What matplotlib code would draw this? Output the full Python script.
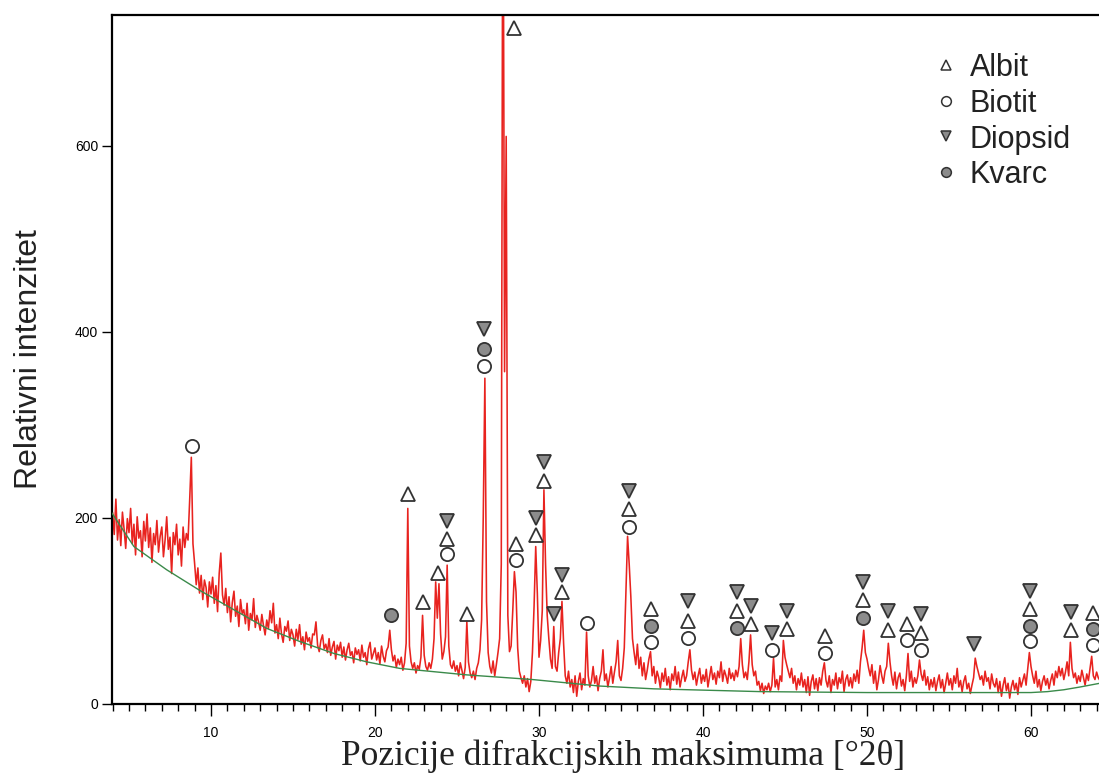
import numpy as np
import matplotlib
matplotlib.use("Agg")
import matplotlib.pyplot as plt
from matplotlib.ticker import MultipleLocator

# ---------------- data ----------------
two_theta_start = 4.0   # deg 2theta of first point
two_theta_step = 0.1    # deg between points

# measured intensity, one row per degree (4.0 ... 64.2)
intensity = [
    205, 182, 220, 176, 198, 170, 206, 188, 167, 199,
    184, 210, 172, 193, 160, 201, 178, 186, 158, 196,
    175, 204, 168, 189, 152, 183, 171, 197, 163, 180,
    190, 158, 176, 201, 166, 179, 140, 184, 171, 193,
    160, 177, 148, 190, 168, 183, 176, 219, 265, 172,
    151, 128, 146, 119, 138, 112, 133, 125, 104, 131,
    118, 136, 108, 127, 99, 140, 162, 117, 106, 124,
    98, 115, 88, 109, 121, 94, 105, 83, 112, 97,
    101, 86, 108, 79, 97, 90, 113, 82, 95, 88,
    79, 96, 84, 74, 90, 81, 100, 87, 108, 76,
    85, 70, 92, 75, 66, 83, 78, 89, 68, 80,
    74, 62, 80, 69, 85, 64, 72, 58, 77, 67,
    71, 60, 75, 74, 88, 63, 56, 68, 74, 59,
    64, 55, 70, 52, 61, 67, 48, 63, 57, 66,
    50, 61, 47, 58, 65, 52, 56, 44, 60, 53,
    58, 46, 63, 50, 55, 42, 59, 66, 48, 54,
    60, 47, 55, 43, 62, 51, 45, 57, 61, 79,
    58, 46, 52, 39, 48, 42, 50, 36, 44, 65,
    210, 62, 45, 38, 44, 33, 41, 37, 50, 95,
    52, 40, 36, 44, 38, 48, 70, 131, 92, 129,
    75, 48, 56, 72, 149, 62, 42, 38, 46, 35,
    41, 30, 44, 36, 27, 39, 88, 45, 33, 28,
    35, 26, 38, 44, 58, 90, 200, 350, 110, 55,
    40, 33, 46, 30, 42, 55, 70, 150, 1000, 357,
    610, 95, 56, 62, 100, 142, 120, 60, 35, 28,
    22, 30, 18, 27, 13, 24, 55, 105, 169, 118,
    50, 68, 100, 230, 150, 95, 70, 48, 38, 83,
    40, 35, 55, 70, 110, 65, 30, 22, 35, 18,
    26, 12, 30, 8, 24, 33, 15, 27, 20, 77,
    30, 18, 25, 40, 22, 30, 14, 27, 35, 58,
    25, 32, 18, 28, 40, 22, 34, 45, 68, 30,
    25, 38, 60, 120, 180, 150, 115, 70, 55, 42,
    64, 38, 50, 30, 44, 26, 36, 48, 56, 30,
    40, 22, 35, 28, 17, 33, 24, 38, 20, 29,
    15, 32, 25, 40, 21, 34, 18, 28, 36, 24,
    30, 45, 58, 36, 26, 34, 20, 30, 38, 22,
    31, 24, 37, 18, 29, 40, 26, 33, 21, 35,
    28, 45, 24, 36, 30, 22, 38, 27, 33, 25,
    36, 29, 40, 70, 42, 28, 34, 26, 45, 74,
    42, 30, 35, 20, 24, 14, 22, 11, 19, 15,
    22, 13, 20, 49, 18, 26, 15, 30, 24, 68,
    50, 42, 35, 28, 38, 22, 30, 15, 27, 20,
    33, 18, 26, 12, 29, 9, 24, 31, 16, 27,
    14, 28, 20, 35, 44, 25, 18, 30, 12, 26,
    20, 33, 16, 28, 22, 35, 13, 26, 31, 19,
    28, 17, 32, 24, 36, 22, 45, 60, 79, 55,
    48, 38, 30, 42, 22, 35, 15, 26, 41, 30,
    22, 35, 40, 65, 45, 30, 20, 34, 16, 28,
    33, 19, 26, 14, 30, 54, 24, 35, 18, 28,
    22, 30, 47, 32, 25, 36, 20, 29, 15, 26,
    18, 28, 14, 24, 31, 17, 26, 12, 22, 33,
    20, 27, 15, 30, 22, 38, 18, 25, 13, 24,
    30, 16, 22, 11, 20, 28, 49, 40, 33, 26,
    30, 20, 35, 24, 28, 16, 32, 22, 18, 27,
    12, 24, 8, 20, 28, 14, 22, 6, 18, 25,
    15, 22, 10, 28, 18, 25, 32, 20, 38, 55,
    40, 30, 22, 35, 18, 26, 14, 24, 30, 20,
    27, 16, 25, 32, 20, 35, 28, 40, 30, 38,
    26, 34, 45, 30, 66, 38, 28, 33, 22, 30,
    24, 36, 28, 20, 32, 25, 38, 51, 30, 26,
    34, 28, 25,
]

# fitted background (green)
bg_2theta = [3.96, 5.3, 7.3, 9.3, 11.4, 13.4, 15.4, 17.5, 19.5, 21.5,
             25.6, 29.6, 33.7, 37.0, 43.5, 50.0, 60.0, 61.0, 62.0, 63.0, 64.2]
bg_int = [205, 169, 144, 122, 101, 81, 67, 54, 45, 38,
          31, 26, 19, 16, 13, 12, 12, 13, 15, 18, 22]

# phase identification marks (2theta, height of symbol)
albit_x = [22.03, 22.95, 23.82, 24.37, 25.59, 28.48, 28.58, 29.82, 30.29, 31.38,
           35.49, 36.82, 39.10, 42.07, 42.95, 45.10, 47.41, 49.74, 51.29, 52.43,
           53.30, 59.92, 62.42, 63.76]
albit_y = [225, 109, 141, 177, 96, 727, 172, 181, 240, 120,
           209, 102, 89, 100, 86, 80, 73, 111, 79, 86,
           76, 102, 79, 98]

biotit_x = [8.84, 24.37, 26.63, 28.58, 32.95, 35.49, 36.82, 39.10, 44.18, 47.41,
            52.43, 53.30, 59.92, 63.76]
biotit_y = [277, 161, 363, 154, 87, 190, 66, 71, 58, 55,
            68, 58, 67, 63]

diopsid_x = [24.37, 26.63, 29.82, 30.29, 30.93, 31.38, 35.49, 39.10, 42.07, 42.95,
             44.18, 45.10, 49.74, 51.29, 53.30, 56.55, 59.92, 62.42]
diopsid_y = [197, 403, 200, 260, 96, 138, 229, 110, 120, 105,
             76, 100, 131, 100, 97, 64, 121, 99]

kvarc_x = [20.96, 26.63, 36.82, 42.07, 49.74, 59.92, 63.76]
kvarc_y = [95, 381, 84, 81, 92, 84, 80]

phase_names = ["Albit", "Biotit", "Diopsid", "Kvarc"]

# ---------------- plotting ----------------
sans = "Liberation Sans"
serif = "Liberation Serif"
edge = "#333333"
grey = "#8c8c8c"

two_theta = two_theta_start + two_theta_step * np.arange(len(intensity))

fig = plt.figure(figsize=(10.99, 7.83), dpi=100)
ax = fig.add_axes([0.1019, 0.1009, 0.8981, 0.8799])

ax.plot(two_theta, intensity, color="#e8231f", lw=1.15, zorder=2)
ax.plot(bg_2theta, bg_int, color="#3a8a4a", lw=1.0, zorder=3)

styles = [
    (albit_x, albit_y, "^", "white"),
    (biotit_x, biotit_y, "o", "white"),
    (diopsid_x, diopsid_y, "v", grey),
    (kvarc_x, kvarc_y, "o", grey),
]
for xs, ys, m, fc in styles:
    ax.plot(xs, ys, ls="none", marker=m, ms=9.5, mfc=fc, mec=edge, mew=1.3,
            zorder=4, clip_on=False)

# legend drawn by hand in the upper right corner
for i, ((_, _, m, fc), name) in enumerate(zip(styles, phase_names)):
    yb = 0.9115 - i * 0.0519
    ax.plot([0.845], [yb + 0.016], transform=ax.transAxes, ls="none", marker=m,
            ms=7, mfc=fc, mec=edge, mew=1.1, zorder=5)
    ax.text(0.869, yb, name, transform=ax.transAxes, fontsize=22,
            family=sans, va="baseline", ha="left", color="#222222")

ax.set_xlim(3.963, 64.146)
ax.set_ylim(-0.3, 740.5)

ax.set_xticks([10, 20, 30, 40, 50, 60])
ax.xaxis.set_minor_locator(MultipleLocator(1))
ax.set_yticks([0, 200, 400, 600])
ax.tick_params(axis="x", which="major", length=8.5, width=1.0, pad=7, labelsize=10)
ax.tick_params(axis="x", which="minor", length=5, width=1.0)
ax.tick_params(axis="y", length=7, width=1.0, pad=3, labelsize=10)
for lab in ax.get_xticklabels() + ax.get_yticklabels():
    lab.set_family(sans)

for s in ["left", "bottom", "top"]:
    ax.spines[s].set_linewidth(1.6)
ax.spines["right"].set_visible(False)

ax.set_ylabel("Relativni intenzitet", fontsize=23, family=sans, color="#222222")
ax.yaxis.set_label_coords(-0.069, 0.5)
ax.set_xlabel("Pozicije difrakcijskih maksimuma [°2θ]", fontsize=25.5,
              family=serif, color="#222222")
ax.xaxis.set_label_coords(0.518, -0.052)

fig.savefig("out.png", dpi=100)
